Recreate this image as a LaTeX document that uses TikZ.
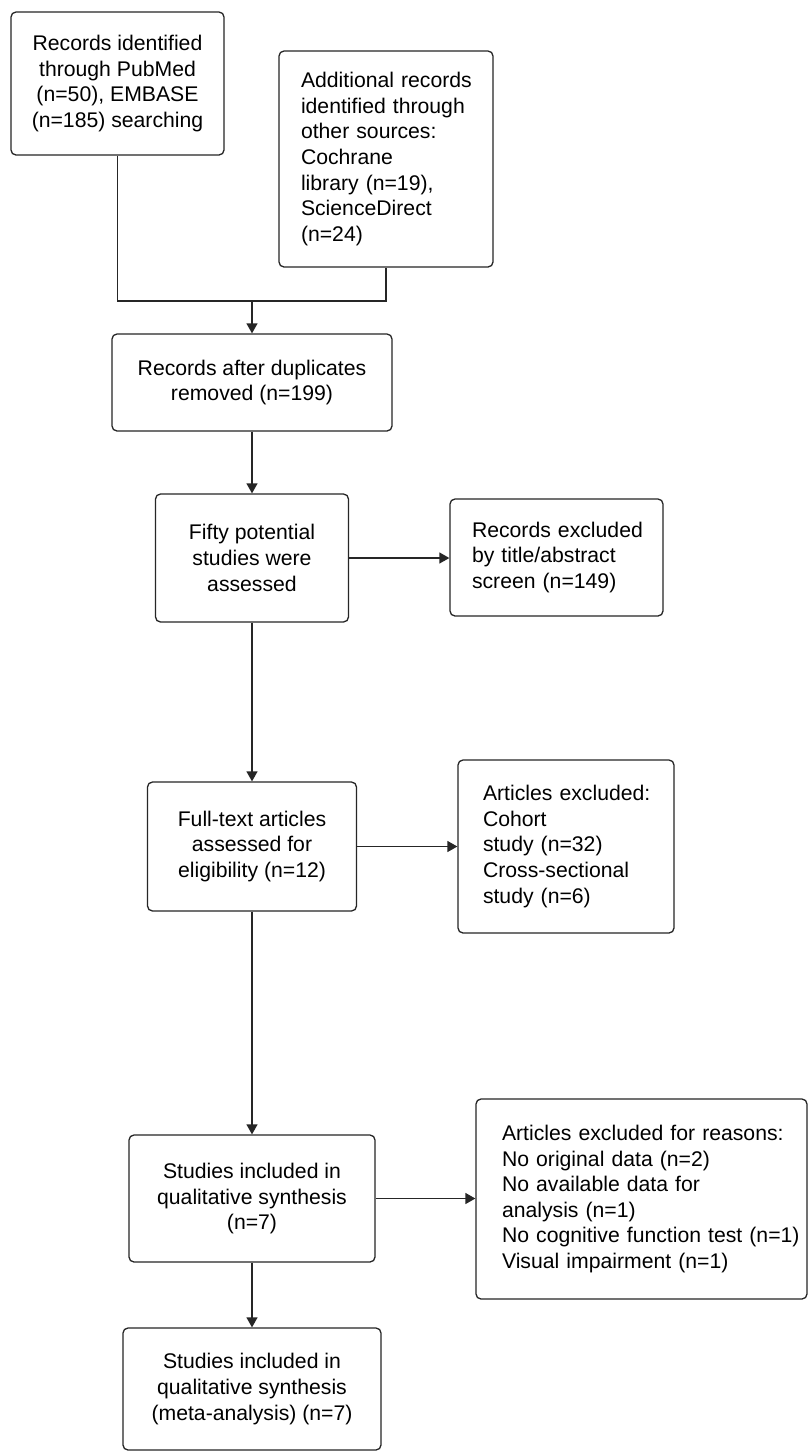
\documentclass[tikz,border=0pt]{standalone}
\usepackage{fontspec}
\setmainfont{Liberation Sans}
\usetikzlibrary{arrows.meta}
\newcommand{\tl}[1]{\mbox{#1}}
\tikzset{
  boxc/.style={draw=black!85, line width=1.3pt, rounded corners=5pt, inner ysep=0pt,
    align=center, font=\fontsize{21.2}{25.6}\selectfont},
  boxl/.style={boxc, align=left},
  conn/.style={draw=black!85, line width=1.3pt},
  arr/.style={conn, -{Triangle[length=10pt,width=11pt]}}
}
\begin{document}
\begin{tikzpicture}[x=1pt,y=-1pt]
\useasboundingbox (0,0) rectangle (809,1452);
\fill[white] (0,0) rectangle (809,1452);

\node[boxc, minimum width=213pt, minimum height=143pt] (b1) at (117.5,83.5)
  {Records identified\\through PubMed\\(n=50), EMBASE\\(n=185) searching};
\node[boxl, minimum width=214pt, minimum height=216pt, inner xsep=22pt, text width=170pt] (b2) at (386,159)
  {\tl{Additional records}\\\tl{identified through}\\\tl{other sources:}\\\tl{Cochrane}\\\tl{library (n=19),}\\\tl{ScienceDirect}\\\tl{(n=24)}};
\node[boxc, minimum width=280pt, minimum height=97pt] (b3) at (252,382.5)
  {Records after duplicates\\removed (n=199)};
\node[boxc, minimum width=193pt, minimum height=128pt] (b4) at (252,558)
  {Fifty potential\\studies were\\assessed};
\node[boxl, minimum width=213pt, minimum height=117pt, inner xsep=22pt, text width=169pt] (b5) at (556.5,557.5)
  {\tl{Records excluded}\\\tl{by title/abstract}\\\tl{screen (n=149)}};
\node[boxc, minimum width=209pt, minimum height=129pt] (b6) at (252,846.5)
  {Full-text articles\\assessed for\\eligibility (n=12)};
\node[boxl, minimum width=216pt, minimum height=173pt, inner xsep=25pt, text width=166pt] (b7) at (566,846.5)
  {\tl{Articles excluded:}\\\tl{Cohort}\\\tl{study (n=32)}\\\tl{Cross-sectional}\\\tl{study (n=6)}};
\node[boxc, minimum width=246pt, minimum height=127pt] (b8) at (252,1198.5)
  {Studies included in\\qualitative synthesis\\(n=7)};
\node[boxl, minimum width=331pt, minimum height=200pt, inner xsep=26pt, text width=279pt] (b9) at (641.5,1199)
  {\tl{Articles excluded for reasons:}\\\tl{No original data (n=2)}\\\tl{No available data for}\\\tl{analysis (n=1)}\\\tl{No cognitive function test (n=1)}\\\tl{Visual impairment (n=1)}};
\node[boxc, minimum width=258pt, minimum height=122pt] (b10) at (252,1389)
  {Studies included in\\qualitative synthesis\\(meta-analysis) (n=7)};

\coordinate (mid) at (252,301);
\draw[conn] (b1.south) |- (mid) -| (b2.south);
\draw[arr] (mid) -- (b3.north);
\draw[arr] (b3.south) -- (b4.north);
\draw[arr] (b4.east) -- (b4.east -| b5.west);
\draw[arr] (b4.south) -- (b6.north);
\draw[arr] (b6.east) -- (b6.east -| b7.west);
\draw[arr] (b6.south) -- (b8.north);
\draw[arr] (b8.east) -- (b8.east -| b9.west);
\draw[arr] (b8.south) -- (b10.north);
\end{tikzpicture}
\end{document}
